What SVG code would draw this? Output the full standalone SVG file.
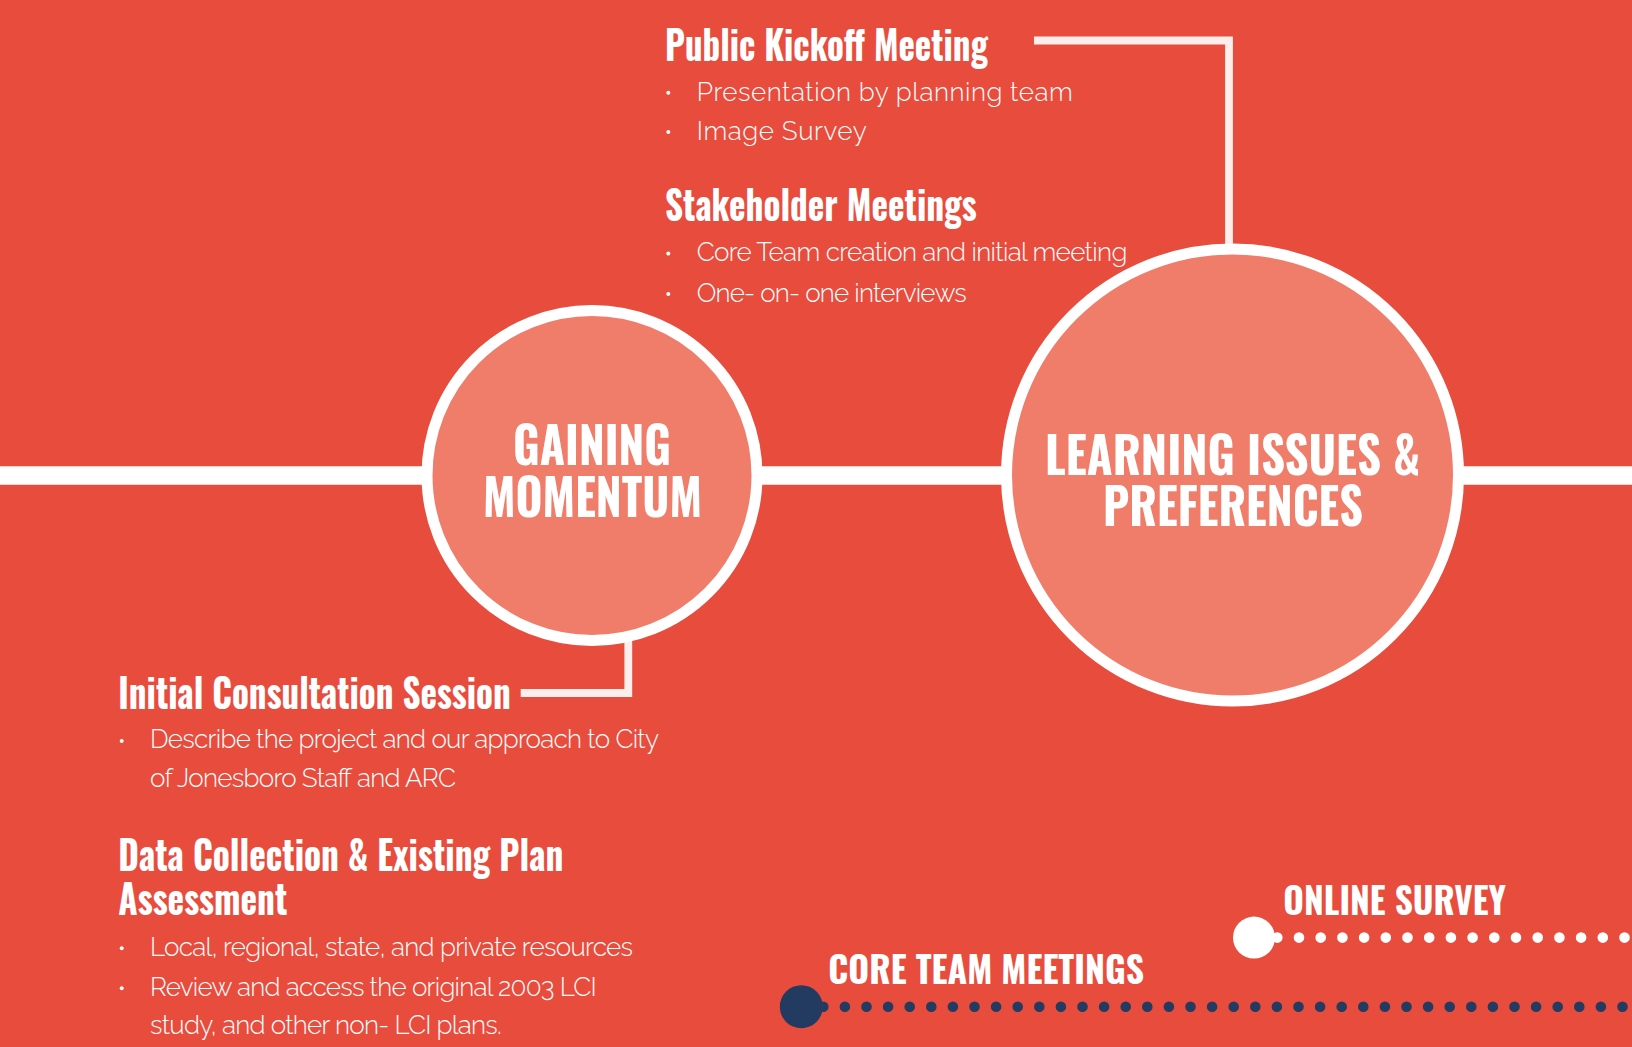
<svg xmlns="http://www.w3.org/2000/svg" width="1632" height="1047" viewBox="0 0 1632 1047">
  <style>
    .bg { fill: #E84C3D; }
    .ring { fill: #F07D6A; stroke: #FFFFFF; stroke-width: 11; }
    .conn { fill: none; stroke: #FBEEEC; stroke-width: 7.8; stroke-linejoin: miter; }
    .spine { fill: none; stroke: #FFFFFF; stroke-width: 18.5; }
    .head { font-family: "Oswald", "DejaVu Sans Condensed", "Liberation Sans Narrow", sans-serif; font-weight: bold; fill: #FFFFFF; }
    .h40 { font-size: 40px; }
    .circ { font-size: 51px; text-anchor: middle; }
    .tl { font-size: 38px; }
    .body { font-family: "Raleway", "Lato", "Open Sans", sans-serif; font-weight: 300; font-size: 26px; fill: #FFFFFF; }
    .bullet { fill: #FFFFFF; }
  </style>

  <rect class="bg" x="0" y="0" width="1632" height="1047"/>

  <g id="connectors">
    <line class="spine" x1="0" y1="475.5" x2="1632" y2="475.5"/>
    <path class="conn" d="M1034 40.5 H1229 V246"/>
    <path class="conn" d="M520.7 693 H628.3 V640"/>
  </g>

  <g id="node-gaining-momentum">
    <circle class="ring" cx="592" cy="475.5" r="165"/>
    <text class="head circ" x="592" y="465" textLength="158" lengthAdjust="spacingAndGlyphs">GAINING</text>
    <text class="head circ" x="592.5" y="517" textLength="219" lengthAdjust="spacingAndGlyphs">MOMENTUM</text>
  </g>

  <g id="node-learning-issues">
    <circle class="ring" cx="1232.5" cy="475" r="226"/>
    <text class="head circ" x="1232.5" y="475" textLength="375" lengthAdjust="spacingAndGlyphs">LEARNING ISSUES &amp;</text>
    <text class="head circ" x="1233" y="526" textLength="260" lengthAdjust="spacingAndGlyphs">PREFERENCES</text>
  </g>

  <g id="node-public-kickoff">
    <text class="head h40" x="665" y="60.7" textLength="323" lengthAdjust="spacingAndGlyphs">Public Kickoff Meeting</text>
    <circle class="bullet" cx="668.3" cy="92.7" r="2"/>
    <text class="body" x="696.7" y="100.7" textLength="376">Presentation by planning team</text>
    <circle class="bullet" cx="668.3" cy="132" r="2"/>
    <text class="body" x="696.7" y="140" textLength="170">Image Survey</text>
  </g>

  <g id="node-stakeholder">
    <text class="head h40" x="665" y="220.7" textLength="311.7" lengthAdjust="spacingAndGlyphs">Stakeholder Meetings</text>
    <circle class="bullet" cx="668.3" cy="253.5" r="2"/>
    <text class="body" x="696.7" y="260.7" textLength="430.6">Core Team creation and initial meeting</text>
    <circle class="bullet" cx="668.3" cy="294" r="2"/>
    <text class="body" x="696.7" y="301.7" textLength="270">One- on- one interviews</text>
  </g>

  <g id="node-initial-consultation">
    <text class="head h40" x="118.3" y="709" textLength="392.4" lengthAdjust="spacingAndGlyphs">Initial Consultation Session</text>
    <circle class="bullet" cx="121.7" cy="741" r="2"/>
    <text class="body" x="150" y="748.3" textLength="509">Describe the project and our approach to City</text>
    <text class="body" x="150" y="787.3" textLength="306">of Jonesboro Staff and ARC</text>
  </g>

  <g id="node-data-collection">
    <text class="head h40" x="118.3" y="870.7" textLength="445" lengthAdjust="spacingAndGlyphs">Data Collection &amp; Existing Plan</text>
    <text class="head h40" x="118.3" y="915" textLength="169" lengthAdjust="spacingAndGlyphs">Assessment</text>
    <circle class="bullet" cx="121.7" cy="948.3" r="2"/>
    <text class="body" x="150" y="955.7" textLength="483">Local, regional, state, and private resources</text>
    <circle class="bullet" cx="121.7" cy="988.3" r="2"/>
    <text class="body" x="150" y="995.7" textLength="446.7">Review and access the original 2003 LCI</text>
    <text class="body" x="150" y="1034.3" textLength="351.7">study, and other non- LCI plans.</text>
  </g>

  <g id="node-online-survey">
    <line x1="1277.3" y1="937.6" x2="1640" y2="937.6" stroke="#FFFFFF" stroke-width="10.6" stroke-linecap="round" stroke-dasharray="0 21.7"/>
    <circle cx="1254" cy="937.6" r="21" fill="#FFFFFF"/>
    <text class="head tl" x="1283.3" y="915" textLength="222.7" lengthAdjust="spacingAndGlyphs">ONLINE SURVEY</text>
  </g>

  <g id="node-core-team-meetings">
    <line x1="823.3" y1="1006.7" x2="1640" y2="1006.7" stroke="#243B61" stroke-width="10.6" stroke-linecap="round" stroke-dasharray="0 21.6"/>
    <circle cx="801.3" cy="1006.7" r="21.5" fill="#243B61"/>
    <text class="head tl" x="828.3" y="983.5" textLength="315.7" lengthAdjust="spacingAndGlyphs">CORE TEAM MEETINGS</text>
  </g>
</svg>
